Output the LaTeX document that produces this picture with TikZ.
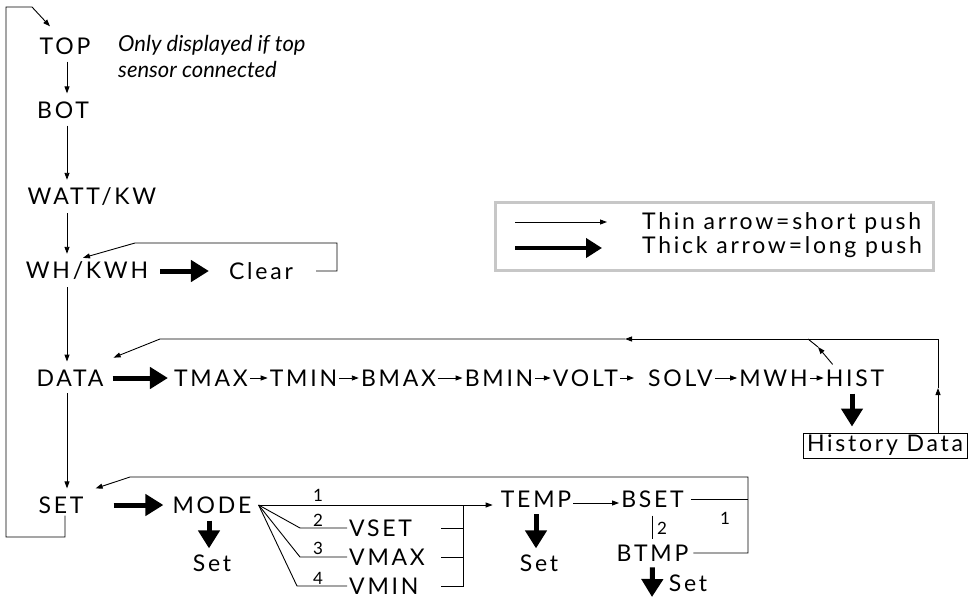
\documentclass[tikz,border=0pt]{standalone}
\usepackage{fontspec}
\setmainfont{Lato}[LetterSpace=12]
\newfontfamily\notefont{Lato}
\usetikzlibrary{arrows.meta, positioning}

\begin{document}
\begin{tikzpicture}[x=1pt, y=-1pt,
    every node/.style={inner sep=2pt, font=\fontsize{23}{27}\selectfont},
    num/.style={inner sep=0pt, font=\fontsize{17}{18}\selectfont},
    note/.style={align=left, inner sep=0pt, font=\notefont\fontsize{22}{26}\selectfont\itshape},
    wire/.style={line width=0.9pt},
    thinarr/.style={wire, -{Triangle[length=7pt,width=5pt]}},
    thickarr/.style={line width=5pt, -{Triangle[length=18pt,width=21pt]}},
    vlink/.style={thinarr, shorten <=5pt, shorten >=6pt}]
    \useasboundingbox (0,0) rectangle (969,603);

    % Main column
    \node (top) at (65,46) {TOP};
    \node[note, anchor=north west] (note) at (118,35) {Only displayed if top\\sensor connected};
    \node (bot) at (63,110) {BOT};
    \node (watt) at (92,197) {WATT/KW};
    \node (wh) at (87,271) {WH/KWH};
    \node (data) at (70,378) {DATA};
    \node (set) at (61,505) {SET};
    \coordinate (axis) at (67,0);

    \draw[vlink] (top.south -| axis) -- (bot.north -| axis);
    \draw[vlink] (bot.south -| axis) -- (watt.north -| axis);
    \draw[vlink] (watt.south -| axis) -- (wh.north -| axis);
    \draw[vlink] (wh.south -| axis) -- (data.north -| axis);
    \draw[vlink] (data.south -| axis) -- (set.north -| axis);

    % Back to the top
    \coordinate (loopB) at (6,537);
    \coordinate (loopT) at (6,7);
    \coordinate (loopK) at (32,7);
    \draw[thinarr] ([xshift=4pt]set.south) |- (loopB) -- (loopT) -- (loopK) -- ([xshift=-15pt,yshift=9pt]top.north);

    % Clear
    \node (clear) at (261,271) {Clear};
    \draw[thickarr, shorten <=10pt, shorten >=18pt] (wh.east) -- (clear.west);
    \coordinate (clearR) at (337,243);
    \coordinate (clearL) at (135,243);
    \draw[thinarr] ([xshift=21pt]clear.east) -| (clearR) -- (clearL) -- ([xshift=-4pt,yshift=2pt]wh.north);

    % Data row
    \node (tmax) at (211,378) {TMAX};
    \node (tmin) at (303.5,378) {TMIN};
    \node (bmax) at (398.5,378) {BMAX};
    \node (bmin) at (499,378) {BMIN};
    \node (volt) at (585.5,378) {VOLT};
    \node (solv) at (680.5,378) {SOLV};
    \node (mwh) at (773.5,378) {MWH};
    \node (hist) at (855,378) {HIST};
    \draw[thickarr, shorten <=7pt, shorten >=4pt] (data.east) -- (tmax.west);
    \foreach \a/\b/\s in {tmax/tmin/0, tmin/bmax/0, bmax/bmin/0, bmin/volt/0,
                          volt/solv/12, solv/mwh/0, mwh/hist/0}
        \draw[thinarr, shorten >=\s pt] (\a.east) -- (\b.west);

    % History
    \node[draw, wire, minimum width=164pt, minimum height=25pt, inner xsep=2pt, inner ysep=0pt] (hbox) at (885,445.5) {History Data};
    \draw[thickarr, shorten <=5pt, shorten >=6pt] ([xshift=-3pt]hist.south) -- ([xshift=-3pt]hist.south |- hbox.north);
    \coordinate (hup) at (938,388);
    \coordinate (hcorner) at (938,339);
    \coordinate (hmid) at (625,339);
    \coordinate (dcorner) at (160,339);
    \coordinate (htip) at (818,347);
    \coordinate (htop) at (808,339);
    \draw[thinarr] (hbox.north -| hcorner) -- (hup);
    \draw[thinarr] (hup) -- (hcorner) -- (hmid);
    \draw[thinarr] (hmid) -- (dcorner) -- ([xshift=8pt,yshift=10pt]data.north east);
    \draw[thinarr] ([xshift=9pt,yshift=3pt]hist.north west) -- (htip);
    \draw[wire] (htip) -- (htop);

    % Set row
    \node (mode) at (212,505) {MODE};
    \draw[thickarr, shorten <=28pt, shorten >=7pt] (set.east) -- (mode.west);
    \node (setA) at (212,563) {Set};
    \draw[thickarr, shorten <=5pt, shorten >=4pt] ([xshift=-3pt]mode.south) -- ([xshift=-3pt]setA.north);

    % Modes 1-4
    \coordinate (fan) at ([xshift=5pt]mode.east);
    \node (temp) at (536,499) {TEMP};
    \node[anchor=west] (vset) at (347,528) {VSET};
    \node[anchor=west] (vmax) at (347,557) {VMAX};
    \node[anchor=west] (vmin) at (347,586) {VMIN};
    \coordinate (k2) at (300,528);
    \coordinate (k3) at (300,557);
    \coordinate (k4) at (297,586);
    \draw[thinarr, shorten >=6pt] (fan) -- (fan -| temp.west);
    \draw[wire] (fan) -- (k2) -- (vset.west);
    \draw[wire] (fan) -- (k3) -- (vmax.west);
    \draw[wire] (fan) -- (k4) -- (vmin.west);
    \node[num] (n1) at (318,495) {1};
    \node[num] (n2) at (318,520) {2};
    \node[num] (n3) at (318,548) {3};
    \node[num] (n4) at (318,578) {4};
    \coordinate (vstart) at (441,0);
    \coordinate (vbar) at (463,505);
    \draw[wire] (vset.east -| vstart) -- (vset.east -| vbar);
    \draw[wire] (vmax.east -| vstart) -- (vmax.east -| vbar);
    \draw[wire] (vmin.east -| vstart) -- (vmin.east -| vbar) -- (vbar);

    % Temp
    \node (setB) at (539,563) {Set};
    \draw[thickarr, shorten <=5pt, shorten >=4pt] (temp.south) -- (temp.south |- setB.north);
    \node (bset) at (652.5,499) {BSET};
    \node (btmp) at (652.5,553) {BTMP};
    \draw[thinarr] ([yshift=-4pt]temp.east) -- ([yshift=-4pt]bset.west);
    \draw[wire, shorten <=6pt, shorten >=4pt] (bset.south) -- (btmp.north);
    \node[num] (n2b) at (662,528) {2};
    \node[num] (n1b) at (725,518) {1};
    \coordinate (sr) at (748,477);
    \coordinate (sl) at (130,477);
    \draw[wire] ([xshift=5pt]bset.east) -- (bset.east -| sr);
    \draw[thinarr] ([xshift=3pt]btmp.east) -| (sr) -- (sl) -- ([xshift=10pt,yshift=6pt]set.north east);
    \coordinate (bdown) at (652,597);
    \draw[thickarr, shorten <=4pt] (btmp.south) -- (bdown);
    \node (setC) at (688,583) {Set};

    % Legend
    \draw[black!22, line width=3pt] (495,202) rectangle (933,270);
    \coordinate (l1a) at (515,222);
    \coordinate (l1b) at (607,222);
    \coordinate (l2a) at (515,248);
    \coordinate (l2b) at (602,248);
    \draw[thinarr] (l1a) -- (l1b);
    \draw[line width=4.5pt, -{Triangle[length=16pt,width=19pt]}] (l2a) -- (l2b);
    \node[anchor=west] (leg1) at (640,223) {Thin arrow=short push};
    \node[anchor=west] (leg2) at (640,247) {Thick arrow=long push};
\end{tikzpicture}
\end{document}
